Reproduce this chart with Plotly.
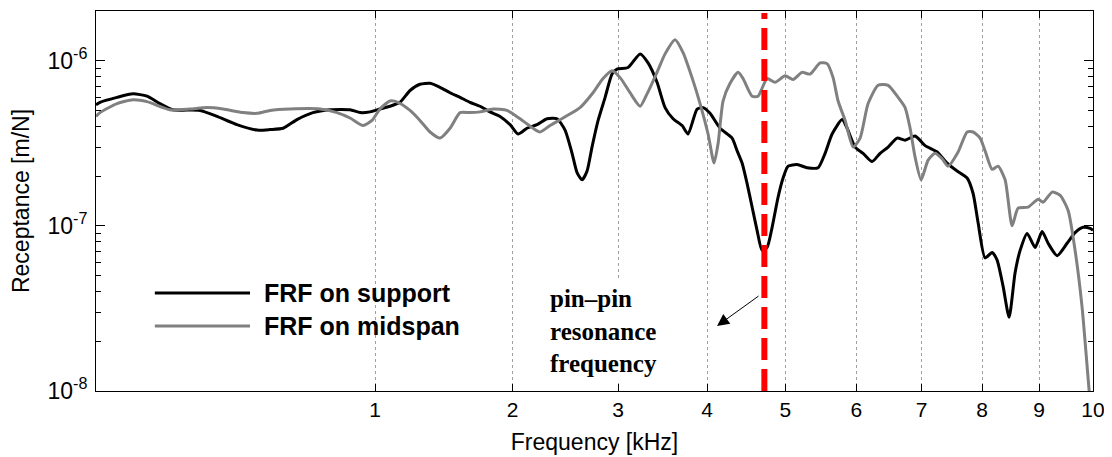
import numpy as np
import plotly.graph_objects as go

# ---------------- data (frequency in kHz, receptance in m/N) ----------------
F_SUPPORT = [0.0255, 0.0295, 0.0497, 0.0735, 0.0981, 0.124, 0.153, 0.224, 0.275, 0.341,
             0.416, 0.468, 0.523, 0.585, 0.661, 0.747, 0.855, 0.912, 0.970, 1.030,
             1.092, 1.156, 1.222, 1.289, 1.359, 1.430, 1.503, 1.578, 1.654, 1.733,
             1.813, 1.895, 1.979, 2.047, 2.125, 2.214, 2.305, 2.397, 2.472, 2.539,
             2.587, 2.636, 2.685, 2.734, 2.795, 2.866, 2.937, 2.989, 3.105, 3.234,
             3.321, 3.420, 3.510, 3.601, 3.705, 3.774, 3.881, 3.952, 4.036, 4.158,
             4.307, 4.370, 4.433, 4.497, 4.561, 4.625, 4.690, 4.756, 4.822, 4.901,
             4.968, 5.036, 5.158, 5.296, 5.449, 5.548, 5.648, 5.792, 5.865, 5.982,
             6.100, 6.235, 6.356, 6.478, 6.617, 6.741, 6.899, 7.058, 7.251, 7.414,
             7.579, 7.746, 7.847, 7.932, 8.050, 8.171, 8.257, 8.361, 8.466, 8.571,
             8.660, 8.785, 8.928, 9.054, 9.163, 9.328, 9.513, 9.662, 9.813, 9.945, 10.0]
R_SUPPORT = [5.4e-7, 5.6e-7, 6.0e-7, 6.3e-7, 6.1e-7, 5.5e-7, 5.05e-7, 5.0e-7, 4.6e-7, 4.1e-7,
             3.8e-7, 3.83e-7, 3.9e-7, 4.4e-7, 4.85e-7, 5.05e-7, 5.05e-7, 4.85e-7, 4.9e-7, 5.1e-7,
             5.3e-7, 5.6e-7, 6.6e-7, 7.2e-7, 7.3e-7, 6.9e-7, 6.4e-7, 6.0e-7, 5.6e-7, 5.3e-7,
             4.9e-7, 4.6e-7, 4.1e-7, 3.6e-7, 3.9e-7, 4.1e-7, 4.45e-7, 4.45e-7, 3.8e-7, 2.75e-7,
             2.1e-7, 1.9e-7, 2.15e-7, 3.0e-7, 4.35e-7, 6.0e-7, 8.3e-7, 8.9e-7, 9.1e-7, 1.10e-6,
             9.7e-7, 7.4e-7, 5.2e-7, 4.45e-7, 4.05e-7, 3.6e-7, 5.1e-7, 5.2e-7, 4.8e-7, 3.9e-7,
             3.4e-7, 2.85e-7, 2.4e-7, 1.8e-7, 1.3e-7, 9.4e-8, 7.1e-8, 7.4e-8, 9.8e-8, 1.49e-7,
             1.95e-7, 2.3e-7, 2.35e-7, 2.25e-7, 2.25e-7, 2.75e-7, 3.6e-7, 4.4e-7, 3.9e-7, 3.0e-7,
             2.75e-7, 2.45e-7, 2.75e-7, 3.0e-7, 3.4e-7, 3.3e-7, 3.5e-7, 3.06e-7, 2.8e-7, 2.4e-7,
             2.15e-7, 1.95e-7, 1.57e-7, 1.04e-7, 6.4e-8, 6.9e-8, 6.2e-8, 4.3e-8, 2.8e-8, 5.2e-8,
             7.1e-8, 9.0e-8, 7.4e-8, 9.25e-8, 7.85e-8, 6.6e-8, 7.85e-8, 9.1e-8, 9.8e-8, 9.65e-8, 9.4e-8]

F_MIDSPAN = [0.0255, 0.0295, 0.0497, 0.0735, 0.0981, 0.146, 0.196, 0.244, 0.294, 0.363,
             0.416, 0.468, 0.554, 0.696, 0.784, 0.855, 0.929, 0.982, 1.030, 1.092,
             1.143, 1.222, 1.289, 1.359, 1.430, 1.503, 1.578, 1.654, 1.733, 1.837,
             1.953, 2.064, 2.178, 2.241, 2.332, 2.453, 2.616, 2.744, 2.845, 2.937,
             3.021, 3.126, 3.234, 3.310, 3.420, 3.510, 3.624, 3.716, 3.821, 3.916,
             4.012, 4.085, 4.134, 4.195, 4.282, 4.382, 4.445, 4.561, 4.638, 4.756,
             4.861, 4.995, 5.103, 5.226, 5.337, 5.478, 5.576, 5.662, 5.734, 5.836,
             5.953, 6.056, 6.175, 6.326, 6.478, 6.632, 6.741, 6.820, 6.899, 6.994,
             7.106, 7.218, 7.332, 7.431, 7.596, 7.746, 7.847, 7.965, 8.050, 8.171,
             8.274, 8.396, 8.519, 8.624, 8.803, 8.982, 9.072, 9.237, 9.384, 9.532,
             9.662, 9.794, 9.889, 9.945]
R_MIDSPAN = [4.6e-7, 4.85e-7, 5.5e-7, 5.8e-7, 5.65e-7, 5.05e-7, 5.1e-7, 5.2e-7, 5.1e-7, 4.85e-7,
             4.8e-7, 5.0e-7, 5.1e-7, 5.1e-7, 4.85e-7, 4.5e-7, 4.05e-7, 4.35e-7, 5.1e-7, 5.7e-7,
             5.6e-7, 5.0e-7, 4.35e-7, 3.7e-7, 3.4e-7, 3.9e-7, 4.85e-7, 4.85e-7, 4.9e-7, 5.1e-7,
             5.0e-7, 4.45e-7, 3.9e-7, 3.7e-7, 4.05e-7, 4.5e-7, 5.2e-7, 6.4e-7, 7.8e-7, 8.7e-7,
             7.9e-7, 6.4e-7, 5.3e-7, 6.3e-7, 8.5e-7, 1.10e-6, 1.34e-6, 1.12e-6, 7.9e-7, 5.5e-7,
             3.6e-7, 2.4e-7, 3.15e-7, 5.7e-7, 7.3e-7, 8.5e-7, 7.8e-7, 6.1e-7, 6.1e-7, 7.8e-7,
             7.4e-7, 8.1e-7, 7.7e-7, 8.5e-7, 8.3e-7, 9.7e-7, 9.6e-7, 7.9e-7, 5.7e-7, 4.35e-7,
             3.0e-7, 3.4e-7, 5.5e-7, 7.1e-7, 7.1e-7, 6.0e-7, 5.2e-7, 3.9e-7, 2.6e-7, 1.9e-7,
             2.5e-7, 2.75e-7, 2.55e-7, 2.3e-7, 2.8e-7, 3.7e-7, 3.7e-7, 3.4e-7, 2.85e-7, 2.2e-7,
             2.3e-7, 1.9e-7, 1.0e-7, 1.28e-7, 1.3e-7, 1.45e-7, 1.39e-7, 1.6e-7, 1.53e-7, 1.24e-7,
             7.1e-8, 3.2e-8, 1.4e-8, 8.5e-9]

RES_FREQ = 4.72          # pin-pin resonance frequency, kHz
X_TICKS = [1, 2, 3, 4, 5, 6, 7, 8, 9, 10]
X_TICK_LABELS = ["1", "2", "3", "4", "5", "6", "7", "8", "9", "10"]
Y_MAJOR = [1e-8, 1e-7, 1e-6]
Y_MAJOR_LABELS = ["10<sup>-8</sup>", "10<sup>-7</sup>", "10<sup>-6</sup>"]
F_MIN, F_MAX = 0.0255, 10.0
R_MIN, R_MAX = 1e-8, 2e-6

LEGEND_NAMES = ["FRF on support", "FRF on midspan"]
COLORS = ["#000000", "#808080"]

# the frequency axis of the original is square-root scaled
def fx(f):
    return np.sqrt(np.asarray(f, dtype=float))

SANS = "Liberation Sans, Arial, sans-serif"
SERIF = "Liberation Serif, Times New Roman, serif"

fig = go.Figure()
fig.add_trace(go.Scatter(x=fx(F_SUPPORT), y=R_SUPPORT, mode="lines", name=LEGEND_NAMES[0],
                         line=dict(color=COLORS[0], width=3, shape="spline", smoothing=0.6),
                         showlegend=False))
fig.add_trace(go.Scatter(x=fx(F_MIDSPAN), y=R_MIDSPAN, mode="lines", name=LEGEND_NAMES[1],
                         line=dict(color=COLORS[1], width=3, shape="spline", smoothing=0.6),
                         showlegend=False))

# red dashed resonance line
fig.add_shape(type="line", xref="x", yref="paper", x0=float(fx(RES_FREQ)), x1=float(fx(RES_FREQ)),
              y0=0, y1=0.995, line=dict(color="#ff0000", width=6, dash="22px,9px"))

# manual legend (long line samples as in the original)
leg_y = [0.258, 0.171]
for name, col, yy in zip(LEGEND_NAMES, COLORS, leg_y):
    fig.add_shape(type="line", xref="paper", yref="paper", x0=0.059, x1=0.1545, y0=yy, y1=yy,
                  line=dict(color=col, width=3))
    fig.add_annotation(xref="paper", yref="paper", x=0.166, y=yy, text="<b>%s</b>" % name,
                       showarrow=False, xanchor="left", yanchor="middle",
                       font=dict(family=SANS, size=25, color="black"))

# resonance text label
fig.add_annotation(xref="paper", yref="paper", x=0.450, y=0.158,
                   text="<b>pin\u2013pin<br>resonance<br>frequency</b>", align="left",
                   showarrow=False, xanchor="left", yanchor="middle", bgcolor="white",
                   borderpad=4, font=dict(family=SERIF, size=25, color="black"))
# arrow
fig.add_annotation(xref="paper", yref="paper", x=0.6229, y=0.1711, text="", showarrow=True,
                   axref="pixel", ayref="pixel", ax=43, ay=-31, arrowhead=2, arrowsize=2.4,
                   arrowwidth=1, arrowcolor="black")

fig.update_xaxes(type="linear", range=[float(fx(F_MIN)), float(fx(F_MAX))], automargin=False,
                 tickmode="array", tickvals=fx(X_TICKS), ticktext=X_TICK_LABELS,
                 ticks="inside", ticklen=7, tickcolor="black", showline=True, linecolor="black",
                 linewidth=1, mirror="ticks", showgrid=True, gridcolor="#a0a0a0", griddash="dot",
                 gridwidth=1, zeroline=False,
                 tickfont=dict(family=SANS, size=21, color="black"),
                 title=dict(text="Frequency [kHz]", font=dict(family=SANS, size=23, color="black"),
                            standoff=13))
fig.update_yaxes(type="log", range=[np.log10(R_MIN), np.log10(R_MAX)], automargin=False,
                 tickmode="array", tickvals=Y_MAJOR, ticktext=Y_MAJOR_LABELS,
                 ticks="inside", ticklen=9, tickcolor="black", showline=True, linecolor="black",
                 linewidth=1, mirror="ticks", showgrid=False, zeroline=False,
                 ticklabelstandoff=3,
                 minor=dict(tickmode="array",
                            tickvals=[m * d for d in (1e-8, 1e-7) for m in range(2, 10)] + [2e-6],
                            ticks="inside", ticklen=5, tickcolor="black", showgrid=False),
                 tickfont=dict(family=SANS, size=23, color="black"),
                 title=dict(text="Receptance [m/N]", font=dict(family=SANS, size=23, color="black"),
                            standoff=14))

# the page adds an 8 px body margin, so the figure is sized to fit inside the 1112x457 window
fig.update_layout(width=1104, height=449, margin=dict(l=88, r=19, t=3, b=66),
                  plot_bgcolor="white", paper_bgcolor="white", showlegend=False)

fig.write_html("out.html")
